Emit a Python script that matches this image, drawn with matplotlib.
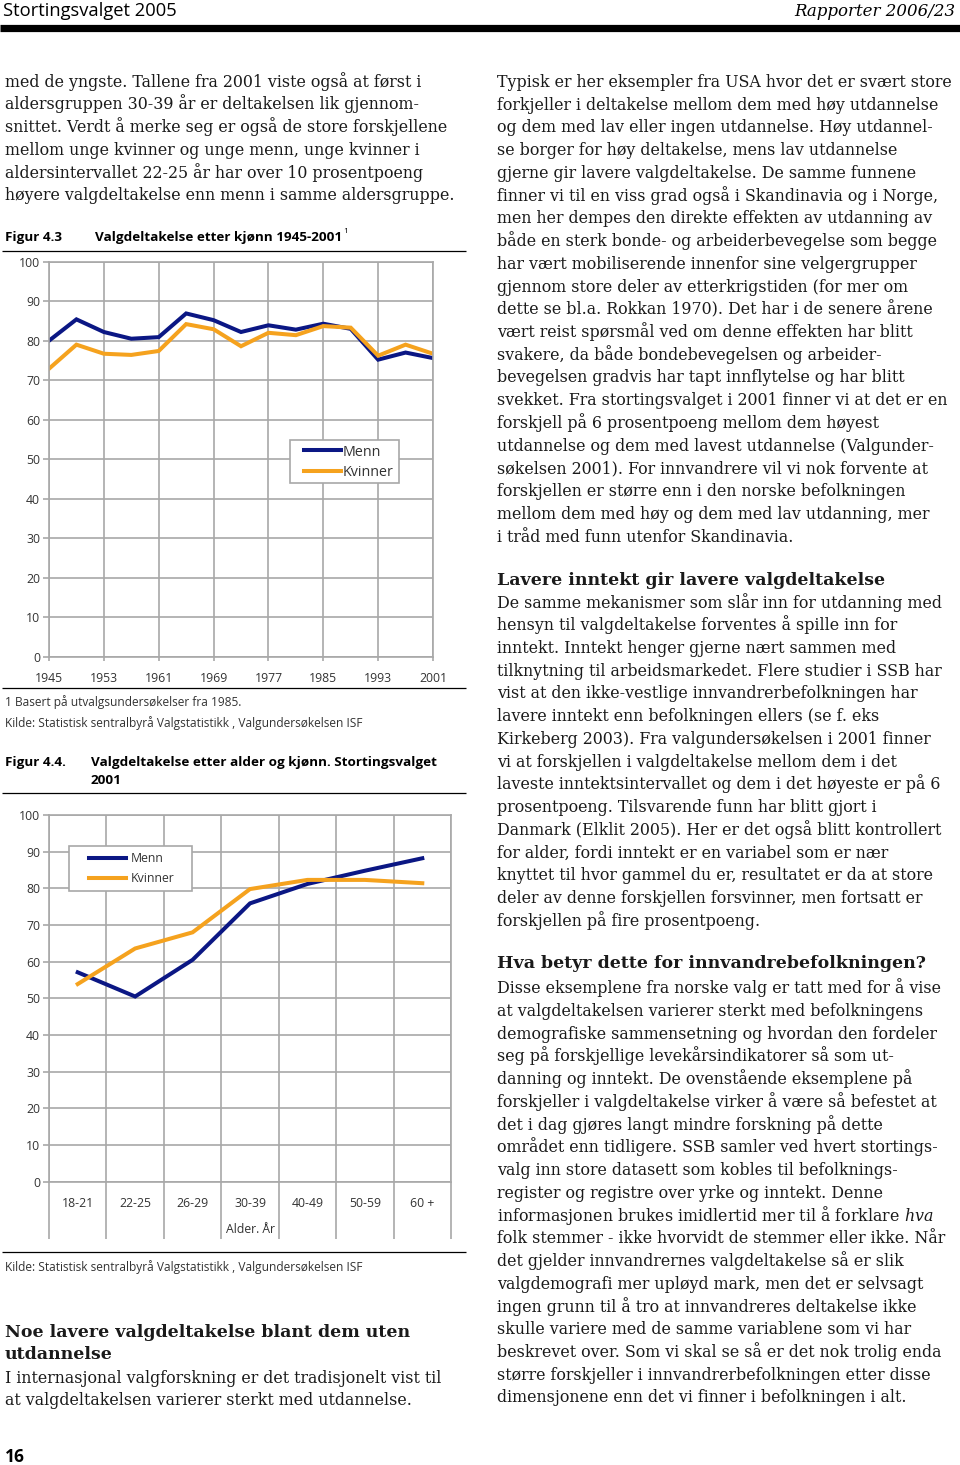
import matplotlib
matplotlib.use('Agg')
import matplotlib.pyplot as plt
from matplotlib.lines import Line2D
from matplotlib.patches import Rectangle
import numpy as np

# --- data -------------------------------------------------------------
years = [1945, 1949, 1953, 1957, 1961, 1965, 1969, 1973, 1977, 1981, 1985, 1989, 1993, 1997, 2001]
menn_aar = [80.0, 85.4, 82.2, 80.5, 80.9, 86.9, 85.2, 82.2, 83.9, 82.8, 84.3, 83.0, 75.2, 77.0, 75.6]
kvinner_aar = [72.9, 79.0, 76.7, 76.4, 77.4, 84.2, 82.9, 78.6, 82.0, 81.4, 83.7, 83.3, 76.2, 79.0, 76.7]
year_ticks = [1945, 1953, 1961, 1969, 1977, 1985, 1993, 2001]

aldersgrupper = ['18-21', '22-25', '26-29', '30-39', '40-49', '50-59', '60 +']
menn_alder = [57.1, 50.5, 60.5, 75.9, 81.2, 84.8, 88.2]
kvinner_alder = [53.9, 63.6, 68.0, 79.8, 82.3, 82.3, 81.4]

y_ticks = list(range(0, 101, 10))

# --- text -------------------------------------------------------------
venstre_topp = [
    "med de yngste. Tallene fra 2001 viste også at først i",
    "aldersgruppen 30-39 år er deltakelsen lik gjennom-",
    "snittet. Verdt å merke seg er også de store forskjellene",
    "mellom unge kvinner og unge menn, unge kvinner i",
    "aldersintervallet 22-25 år har over 10 prosentpoeng",
    "høyere valgdeltakelse enn menn i samme aldersgruppe.",
]
venstre_overskrift = ["Noe lavere valgdeltakelse blant dem uten", "utdannelse"]
venstre_bunn = [
    "I internasjonal valgforskning er det tradisjonelt vist til",
    "at valgdeltakelsen varierer sterkt med utdannelse.",
]
hoyre_1 = [
    "Typisk er her eksempler fra USA hvor det er svært store",
    "forkjeller i deltakelse mellom dem med høy utdannelse",
    "og dem med lav eller ingen utdannelse. Høy utdannel-",
    "se borger for høy deltakelse, mens lav utdannelse",
    "gjerne gir lavere valgdeltakelse. De samme funnene",
    "finner vi til en viss grad også i Skandinavia og i Norge,",
    "men her dempes den direkte effekten av utdanning av",
    "både en sterk bonde- og arbeiderbevegelse som begge",
    "har vært mobiliserende innenfor sine velgergrupper",
    "gjennom store deler av etterkrigstiden (for mer om",
    "dette se bl.a. Rokkan 1970). Det har i de senere årene",
    "vært reist spørsmål ved om denne effekten har blitt",
    "svakere, da både bondebevegelsen og arbeider-",
    "bevegelsen gradvis har tapt innflytelse og har blitt",
    "svekket. Fra stortingsvalget i 2001 finner vi at det er en",
    "forskjell på 6 prosentpoeng mellom dem høyest",
    "utdannelse og dem med lavest utdannelse (Valgunder-",
    "søkelsen 2001). For innvandrere vil vi nok forvente at",
    "forskjellen er større enn i den norske befolkningen",
    "mellom dem med høy og dem med lav utdanning, mer",
    "i tråd med funn utenfor Skandinavia.",
]
hoyre_overskrift_2 = "Lavere inntekt gir lavere valgdeltakelse"
hoyre_2 = [
    "De samme mekanismer som slår inn for utdanning med",
    "hensyn til valgdeltakelse forventes å spille inn for",
    "inntekt. Inntekt henger gjerne nært sammen med",
    "tilknytning til arbeidsmarkedet. Flere studier i SSB har",
    "vist at den ikke-vestlige innvandrerbefolkningen har",
    "lavere inntekt enn befolkningen ellers (se f. eks",
    "Kirkeberg 2003). Fra valgundersøkelsen i 2001 finner",
    "vi at forskjellen i valgdeltakelse mellom dem i det",
    "laveste inntektsintervallet og dem i det høyeste er på 6",
    "prosentpoeng. Tilsvarende funn har blitt gjort i",
    "Danmark (Elklit 2005). Her er det også blitt kontrollert",
    "for alder, fordi inntekt er en variabel som er nær",
    "knyttet til hvor gammel du er, resultatet er da at store",
    "deler av denne forskjellen forsvinner, men fortsatt er",
    "forskjellen på fire prosentpoeng.",
]
hoyre_overskrift_3 = "Hva betyr dette for innvandrebefolkningen?"
hoyre_3 = [
    "Disse eksemplene fra norske valg er tatt med for å vise",
    "at valgdeltakelsen varierer sterkt med befolkningens",
    "demografiske sammensetning og hvordan den fordeler",
    "seg på forskjellige levekårsindikatorer så som ut-",
    "danning og inntekt. De ovenstående eksemplene på",
    "forskjeller i valgdeltakelse virker å være så befestet at",
    "det i dag gjøres langt mindre forskning på dette",
    "området enn tidligere. SSB samler ved hvert stortings-",
    "valg inn store datasett som kobles til befolknings-",
    "register og registre over yrke og inntekt. Denne",
    "informasjonen brukes imidlertid mer til å forklare $\\mathit{hva}$",
    "folk stemmer - ikke hvorvidt de stemmer eller ikke. Når",
    "det gjelder innvandrernes valgdeltakelse så er slik",
    "valgdemografi mer upløyd mark, men det er selvsagt",
    "ingen grunn til å tro at innvandreres deltakelse ikke",
    "skulle variere med de samme variablene som vi har",
    "beskrevet over. Som vi skal se så er det nok trolig enda",
    "større forskjeller i innvandrerbefolkningen etter disse",
    "dimensjonene enn det vi finner i befolkningen i alt.",
]

# --- style --------------------------------------------------------------
plt.rcParams['font.family'] = ['Open Sans', 'DejaVu Sans']
plt.rcParams['mathtext.fontset'] = 'custom'
plt.rcParams['mathtext.rm'] = 'DejaVu Serif'
plt.rcParams['mathtext.it'] = 'DejaVu Serif:italic'

W, H = 960, 1465
BLUE = '#0b1784'
ORANGE = '#f5a21e'
GRID = '#a8a8a8'
SERIF = 'DejaVu Serif'
BODY = 11.45
HEAD = 12.5
LINE = 22.73
TXT = '#1a1a1a'
CHART_TXT = '#333333'

fig = plt.figure(figsize=(W / 100, H / 100), dpi=100)
fig.patch.set_facecolor('white')


def fx(x):
    return x / W


def fy(y):
    return 1 - y / H


def txt(x, y, s, **kw):
    kw.setdefault('color', TXT)
    return fig.text(fx(x), fy(y), s, va='baseline', **kw)


def hline(x0, x1, y, lw, color='black'):
    fig.add_artist(Line2D([fx(x0), fx(x1)], [fy(y), fy(y)],
                          transform=fig.transFigure, color=color, lw=lw,
                          solid_capstyle='butt'))


def px_axes(left, top, width, height):
    return fig.add_axes([fx(left), fy(top + height), width / W, height / H])


def paragraph(x, y0, lines, **kw):
    for i, s in enumerate(lines):
        txt(x, y0 + i * LINE, s, family=SERIF, fontsize=BODY, **kw)


# --- header ---------------------------------------------------------------
txt(3, 15.5, 'Stortingsvalget 2005', fontsize=13.2, color='black')
txt(955, 15.5, 'Rapporter 2006/23', family=SERIF, style='italic',
    fontsize=12.0, ha='right', color='black')
hline(0, 960, 27.5, 5.2)

# --- body text ------------------------------------------------------------
paragraph(5, 86.7, venstre_topp)
paragraph(497, 87.0, hoyre_1)
txt(497, 585, hoyre_overskrift_2, family=SERIF, fontsize=HEAD, weight='bold')
paragraph(497, 607.5, hoyre_2)
txt(497, 968, hoyre_overskrift_3, family=SERIF, fontsize=HEAD, weight='bold')
paragraph(497, 993.3, hoyre_3)
for i, s in enumerate(venstre_overskrift):
    txt(5, 1336.7 + i * LINE, s, family=SERIF, fontsize=HEAD, weight='bold')
paragraph(5, 1382.7, venstre_bunn)
txt(5, 1461.5, '16', fontsize=12.5, weight='bold', color='black')


def style_axes(ax):
    ax.set_facecolor('none')
    ax.set_ylim(0, 100)
    ax.set_yticks(y_ticks)
    ax.grid(True, color=GRID, lw=1.2)
    ax.set_axisbelow(True)
    for sp in ax.spines.values():
        sp.set_color(GRID)
        sp.set_linewidth(1.2)
    ax.tick_params(axis='y', length=4, width=1.2, color=GRID, pad=2.5,
                   labelsize=8.8, labelcolor=CHART_TXT)


def add_legend(ax, box, handle_x, top, fs, hl, spacing, textpad):
    # white box with grey border, legend entries drawn on top of it
    x0, y0, x1, y1 = box
    ax.add_patch(Rectangle((fx(x0), fy(y1)), (x1 - x0) / W, (y1 - y0) / H,
                           transform=fig.transFigure, facecolor='white',
                           edgecolor=GRID, lw=1.2, zorder=4, clip_on=False))
    leg = ax.legend(loc='upper left', bbox_to_anchor=(fx(handle_x), fy(top)),
                    bbox_transform=fig.transFigure, borderaxespad=0,
                    frameon=False, fontsize=fs, handlelength=hl,
                    handletextpad=textpad, labelspacing=spacing, borderpad=0)
    leg.set_zorder(5)
    for t in leg.get_texts():
        t.set_color(CHART_TXT)


# --- Figur 4.3 ------------------------------------------------------------
txt(5, 240.7, 'Figur 4.3', fontsize=9.7, weight='bold', color='black')
txt(95, 240.7, 'Valgdeltakelse etter kjønn 1945-2001', fontsize=9.7,
    weight='bold', color='black')
txt(343, 233, '1', fontsize=6, color='black')
hline(2, 466, 250.5, 0.9)

ax1 = px_axes(49, 261.7, 384, 395)
style_axes(ax1)
ax1.plot(years, menn_aar, color=BLUE, lw=2.9, label='Menn', solid_joinstyle='miter')
ax1.plot(years, kvinner_aar, color=ORANGE, lw=2.9, label='Kvinner', solid_joinstyle='miter')
ax1.set_xlim(1945, 2001)
ax1.set_xticks(year_ticks)
ax1.tick_params(axis='x', length=3, width=1.2, color=GRID, pad=8,
                labelsize=8.8, labelcolor=CHART_TXT)
add_legend(ax1, (290, 440, 399, 483), 304, 444.5, 10.3, 2.6, 0.38, 0.08)

hline(2, 466, 687.7, 0.9)
txt(5, 706, '1 Basert på utvalgsundersøkelser fra 1985.', fontsize=8.6, color=CHART_TXT)
txt(5, 726.7, 'Kilde: Statistisk sentralbyrå Valgstatistikk , Valgundersøkelsen ISF',
    fontsize=8.6, color=CHART_TXT)

# --- Figur 4.4 ------------------------------------------------------------
txt(5, 766, 'Figur 4.4.', fontsize=9.7, weight='bold', color='black')
txt(91, 766, 'Valgdeltakelse etter alder og kjønn. Stortingsvalget', fontsize=9.7,
    weight='bold', color='black')
txt(91, 783.5, '2001', fontsize=9.7, weight='bold', color='black')
hline(2, 466, 792.7, 0.9)

ax2 = px_axes(49, 815, 402, 366.7)
style_axes(ax2)
pos = np.arange(len(aldersgrupper))
ax2.plot(pos, menn_alder, color=BLUE, lw=2.9, label='Menn', solid_joinstyle='miter')
ax2.plot(pos, kvinner_alder, color=ORANGE, lw=2.9, label='Kvinner', solid_joinstyle='miter')
ax2.set_xlim(-0.5, len(aldersgrupper) - 0.5)
ax2.set_xticks(pos)
ax2.set_xticklabels(aldersgrupper)
ax2.set_xticks(np.arange(len(aldersgrupper) + 1) - 0.5, minor=True)
ax2.grid(False, axis='x', which='major')
ax2.grid(True, axis='x', which='minor', color=GRID, lw=1.2)
ax2.tick_params(axis='x', which='major', length=0, pad=11, labelsize=8.8,
                labelcolor=CHART_TXT)
ax2.tick_params(axis='x', which='minor', length=41, width=1.2, color=GRID)
ax2.set_xlabel('Alder. År', fontsize=8.8, color=CHART_TXT, labelpad=-15)
add_legend(ax2, (69, 846, 192, 891), 89, 852.5, 8.8, 3.0, 0.52, 0.4)

hline(2, 466, 1252.3, 0.9)
txt(5, 1270.7, 'Kilde: Statistisk sentralbyrå Valgstatistikk , Valgundersøkelsen ISF',
    fontsize=8.6, color=CHART_TXT)

fig.savefig('out.png', dpi=100)
